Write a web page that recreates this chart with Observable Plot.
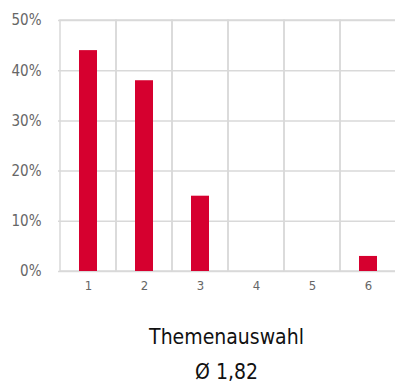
<!DOCTYPE html>
<html>
<head>
<meta charset="utf-8">
<script src="https://cdn.jsdelivr.net/npm/d3@7"></script>
<script src="https://cdn.jsdelivr.net/npm/@observablehq/plot@0.6"></script>
<style>
  html, body { margin: 0; padding: 0; background: #fff; }
  body { width: 395px; height: 386px; overflow: hidden; font-family: "Liberation Sans Narrow", "DejaVu Sans Condensed", sans-serif; font-stretch: condensed; }
  #cap { padding-left: 58px; text-align: center; color: #111; font-size: 21px; line-height: 35px; margin-top: 20px; }
</style>
</head>
<body>
<div id="chart"></div>
<div id="cap"><div></div><div></div></div>
<script>
const categories = ["1", "2", "3", "4", "5", "6"];
const values = [44, 38, 15, 0, 0, 3];
const yTicks = [0, 10, 20, 30, 40, 50];
const title = "Themenauswahl";
const subtitle = "Ø 1,82";

const data = categories.map((c, i) => ({cat: c, v: values[i]}));
const gridColor = "#d9d9d9";

const plot = Plot.plot({
  width: 395,
  height: 300,
  marginLeft: 58,
  marginRight: 0,
  marginTop: 20,
  marginBottom: 29,
  style: {fontFamily: '"Liberation Sans Narrow", "DejaVu Sans Condensed", sans-serif', color: "#666", overflow: "visible"},
  x: {domain: categories, padding: 0, range: [58, 397], label: null},
  y: {domain: [0, 50], label: null},
  marks: [
    Plot.ruleY(yTicks, {y: d => d, stroke: gridColor, strokeWidth: 1.5}),
    Plot.barY(categories, {x: d => d, y1: 0, y2: 50, fill: "none", stroke: gridColor, strokeWidth: 1.5}),
    Plot.barY(data, {x: "cat", y: "v", fill: "#d6002f", insetLeft: 19, insetRight: 19}),
    Plot.axisY(yTicks, {tickSize: 0, tickPadding: 17, tickFormat: d => d + "%", fontSize: 15, fill: "#666"}),
    Plot.axisX(categories, {tickSize: 0, tickPadding: 9, fontSize: 13, fill: "#666"})
  ]
});
document.getElementById("chart").appendChild(plot);
const cap = document.getElementById("cap").children;
cap[0].textContent = title;
cap[1].textContent = subtitle;
</script>
</body>
</html>
